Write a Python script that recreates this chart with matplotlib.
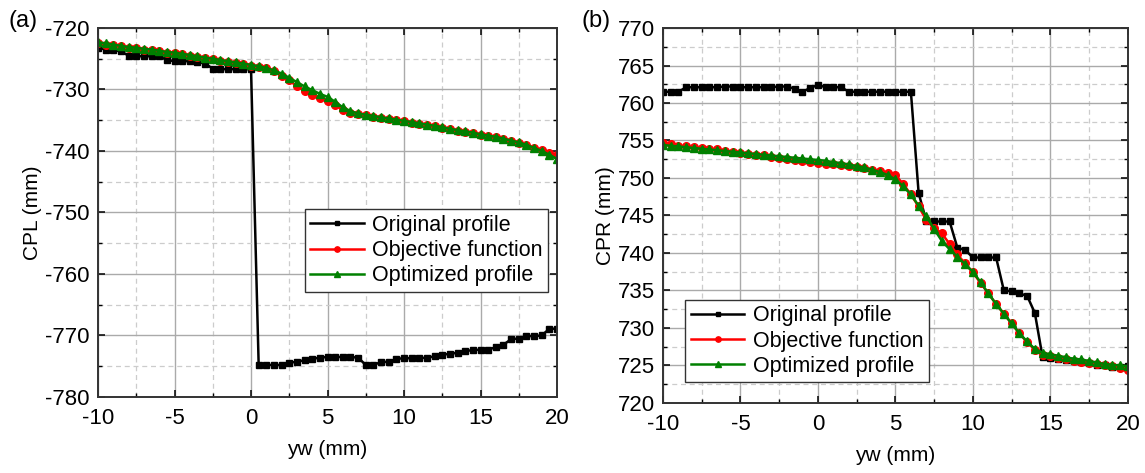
import numpy as np
import matplotlib.pyplot as plt
from matplotlib.ticker import MultipleLocator

plt.rcParams['font.family'] = ['Liberation Sans', 'DejaVu Sans']
plt.rcParams['axes.unicode_minus'] = False

# posiciones yw (mm), paso de 0.5
yw = np.arange(-10, 20.5, 0.5)

# (a) CPL
cpl_original = [-723.2, -723.5, -723.6, -723.8, -724.5, -724.6, -724.6, -724.6, -724.6, -725.2,
                -725.4, -725.4, -725.4, -725.5, -725.8, -726.6, -726.7, -726.7, -726.7, -726.7,
                -726.7, -774.8, -774.8, -774.8, -774.8, -774.4, -774.3, -774.0, -773.8, -773.6,
                -773.5, -773.5, -773.5, -773.5, -773.6, -774.8, -774.8, -774.3, -774.3, -773.8,
                -773.7, -773.7, -773.7, -773.6, -773.4, -773.1, -773.0, -772.8, -772.5, -772.4,
                -772.3, -772.3, -771.9, -771.5, -770.6, -770.5, -770.1, -770.1, -770.0, -768.9,
                -768.9]
cpl_objective = [-722.5, -722.7, -722.8, -723.0, -723.2, -723.3, -723.5, -723.6, -723.8, -724.0,
                 -724.1, -724.3, -724.5, -724.7, -724.9, -725.1, -725.3, -725.5, -725.7, -725.9,
                 -726.1, -726.3, -726.5, -727.0, -727.8, -728.5, -729.5, -730.2, -730.9, -731.4,
                 -731.9, -732.6, -733.3, -733.8, -734.0, -734.2, -734.4, -734.6, -734.8, -735.0,
                 -735.2, -735.4, -735.6, -735.8, -736.0, -736.2, -736.5, -736.7, -736.9, -737.1,
                 -737.4, -737.6, -737.8, -738.1, -738.4, -738.7, -739.1, -739.5, -739.9, -740.3,
                 -740.7]
cpl_optimized = [-722.3, -722.5, -722.7, -722.9, -723.1, -723.2, -723.4, -723.5, -723.7, -723.9,
                 -724.0, -724.2, -724.4, -724.6, -724.8, -725.0, -725.2, -725.4, -725.6, -725.8,
                 -726.0, -726.2, -726.5, -726.9, -727.4, -728.1, -728.8, -729.5, -730.1, -730.7,
                 -731.2, -732.0, -732.9, -733.5, -733.9, -734.1, -734.3, -734.5, -734.7, -734.9,
                 -735.1, -735.3, -735.5, -735.7, -735.9, -736.1, -736.4, -736.6, -736.8, -737.0,
                 -737.3, -737.5, -737.7, -738.0, -738.3, -738.6, -739.0, -739.5, -740.0, -740.6,
                 -741.3]

# (b) CPR
cpr_original = [761.5, 761.5, 761.5, 762.1, 762.1, 762.1, 762.1, 762.1, 762.2, 762.2,
                762.1, 762.1, 762.1, 762.1, 762.1, 762.2, 762.2, 761.9, 761.5, 762.0,
                762.4, 762.1, 762.1, 762.1, 761.5, 761.5, 761.5, 761.5, 761.5, 761.5,
                761.5, 761.5, 761.5, 748.0, 744.2, 744.2, 744.2, 744.2, 740.7, 740.4,
                739.4, 739.4, 739.4, 739.4, 735.0, 734.9, 734.6, 734.3, 732.0, 726.1,
                726.0, 725.9, 725.7, 725.6, 725.4, 725.3, 725.1, 725.0, 724.8, 724.8,
                724.9]
cpr_objective = [754.6, 754.5, 754.3, 754.2, 754.1, 754.0, 753.9, 753.8, 753.6, 753.5,
                 753.3, 753.2, 753.1, 753.0, 752.8, 752.7, 752.5, 752.4, 752.2, 752.1,
                 752.0, 751.9, 751.8, 751.7, 751.6, 751.5, 751.3, 751.1, 750.9, 750.7,
                 750.4, 749.2, 747.8, 746.2, 744.4, 743.3, 742.6, 741.2, 739.8, 738.6,
                 737.4, 736.0, 734.6, 733.2, 731.9, 730.6, 729.3, 728.1, 727.1, 726.4,
                 726.2, 726.0, 725.8, 725.6, 725.5, 725.3, 725.2, 725.0, 724.9, 724.7,
                 724.4]
cpr_optimized = [754.4, 754.3, 754.2, 754.1, 754.0, 753.9, 753.8, 753.7, 753.6, 753.5,
                 753.4, 753.3, 753.2, 753.1, 753.0, 752.9, 752.8, 752.7, 752.6, 752.5,
                 752.4, 752.3, 752.1, 752.0, 751.8, 751.6, 751.4, 751.1, 750.8, 750.4,
                 749.8, 748.9, 747.8, 746.3, 744.9, 743.2, 741.6, 740.5, 739.5, 738.5,
                 737.5, 736.1, 734.6, 733.2, 731.9, 730.6, 729.3, 728.2, 727.2, 726.7,
                 726.5, 726.3, 726.1, 725.9, 725.8, 725.6, 725.4, 725.2, 725.1, 725.0,
                 724.9]

nombres = ['Original profile', 'Objective function', 'Optimized profile']

fig = plt.figure(figsize=(11.45, 4.73), dpi=100)
axA = fig.add_axes([0.0856, 0.1607, 0.4009, 0.7801])
axB = fig.add_axes([0.579, 0.148, 0.406, 0.7928])


def dibujar(ax, original, objetivo, optimizado, ylim, ymaj, ymin, ylabel, loc_leg):
    ax.plot(yw, original, color='black', marker='s', markersize=5, lw=1.8, label=nombres[0])
    ax.plot(yw, objetivo, color='#ff0000', marker='o', markersize=5.5, lw=1.8, label=nombres[1])
    ax.plot(yw, optimizado, color='#008000', marker='^', markersize=6, lw=1.8, label=nombres[2])
    ax.set_xlim(-10, 20)
    ax.set_ylim(*ylim)
    ax.xaxis.set_major_locator(MultipleLocator(5))
    ax.xaxis.set_minor_locator(MultipleLocator(2.5))
    ax.yaxis.set_major_locator(MultipleLocator(ymaj))
    ax.yaxis.set_minor_locator(MultipleLocator(ymin))
    ax.grid(which='major', color='#aaaaaa', lw=1.0, ls='-')
    ax.grid(which='minor', color='#cccccc', lw=0.9, ls=(0, (4, 3)))
    ax.set_axisbelow(True)
    ax.tick_params(which='both', direction='in', top=True, right=True, labelsize=16)
    ax.tick_params(axis='x', pad=8)
    ax.tick_params(axis='y', pad=6)
    ax.tick_params(which='major', length=5, width=1.1)
    ax.tick_params(which='minor', length=3, width=1.0)
    for s in ax.spines.values():
        s.set_color('#333333')
        s.set_linewidth(1.4)
    ax.set_xlabel('yw (mm)', fontsize=15, labelpad=8)
    ax.set_ylabel(ylabel, fontsize=15, labelpad=2)
    leg = ax.legend(loc=loc_leg, fontsize=15.5, fancybox=False, edgecolor='#333333',
                    framealpha=1, handlelength=2.5, handletextpad=0.4, borderpad=0.25,
                    labelspacing=0.2, markerscale=0.7)
    leg.get_frame().set_linewidth(1.0)
    return leg


dibujar(axA, cpl_original, cpl_objective, cpl_optimized, (-780, -720), 10, 5,
        'CPL (mm)', (0.45, 0.285))
dibujar(axB, cpr_original, cpr_objective, cpr_optimized, (720, 770), 5, 2.5,
        'CPR (mm)', (0.048, 0.055))

fig.text(0.007, 0.955, '(a)', fontsize=17, va='center')
fig.text(0.508, 0.955, '(b)', fontsize=17, va='center')

fig.savefig('out.png', dpi=100)
